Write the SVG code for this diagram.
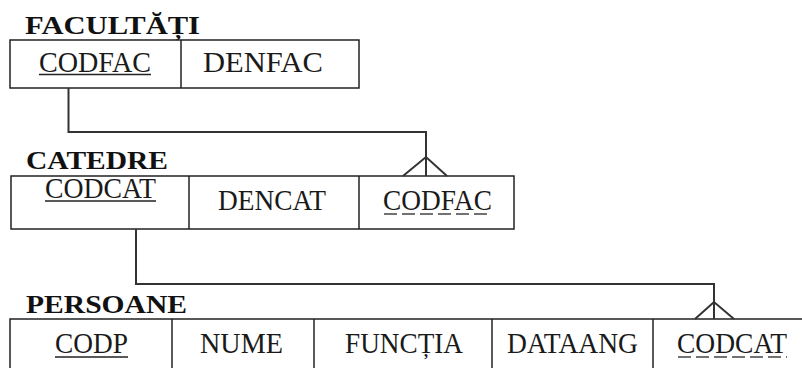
<svg xmlns="http://www.w3.org/2000/svg" width="802" height="368" viewBox="0 0 802 368">
<style>
.title{font-family:"Liberation Serif","Times New Roman",serif;font-weight:bold;font-size:25px;fill:#111}
.cell{font-family:"Liberation Serif","Times New Roman",serif;font-size:29px;fill:#1a1a1a}
.box{fill:none;stroke:#222;stroke-width:1.5}
.conn{fill:none;stroke:#333;stroke-width:2}
.pk{stroke:#222;stroke-width:1.3}
.fk{stroke:#444;stroke-width:1.3;stroke-dasharray:13 5}
</style>
<rect width="802" height="368" fill="#fff"/>
<g id="facultati">
<text class="title" x="25" y="34" textLength="175" lengthAdjust="spacingAndGlyphs">FACULTĂȚI</text>
<rect class="box" x="10" y="40" width="349" height="48"/>
<line class="box" x1="181" y1="40" x2="181" y2="88"/>
<text class="cell" x="39" y="72" textLength="112" lengthAdjust="spacingAndGlyphs">CODFAC</text>
<line class="pk" x1="39" y1="74.5" x2="151" y2="74.5"/>
<text class="cell" x="203" y="72" textLength="120" lengthAdjust="spacingAndGlyphs">DENFAC</text>
</g>
<g id="catedre">
<text class="title" x="26" y="169" textLength="142" lengthAdjust="spacingAndGlyphs">CATEDRE</text>
<rect class="box" x="11" y="176" width="503" height="53"/>
<line class="box" x1="189" y1="176" x2="189" y2="229"/>
<line class="box" x1="359" y1="176" x2="359" y2="229"/>
<text class="cell" x="45" y="198" textLength="111" lengthAdjust="spacingAndGlyphs">CODCAT</text>
<line class="pk" x1="45" y1="201" x2="156" y2="201"/>
<text class="cell" x="218" y="210" textLength="108" lengthAdjust="spacingAndGlyphs">DENCAT</text>
<text class="cell" x="383" y="210" textLength="109" lengthAdjust="spacingAndGlyphs">CODFAC</text>
<line class="fk" x1="384" y1="214" x2="492" y2="214"/>
</g>
<g id="persoane">
<text class="title" x="26" y="313" textLength="161" lengthAdjust="spacingAndGlyphs">PERSOANE</text>
<path class="box" d="M10,372 V319 H804"/>
<line class="box" x1="172" y1="319" x2="172" y2="370"/>
<line class="box" x1="314" y1="319" x2="314" y2="370"/>
<line class="box" x1="492" y1="319" x2="492" y2="370"/>
<line class="box" x1="653" y1="319" x2="653" y2="370"/>
<text class="cell" x="55" y="353" textLength="73" lengthAdjust="spacingAndGlyphs">CODP</text>
<line class="pk" x1="55" y1="357" x2="128" y2="357"/>
<text class="cell" x="200" y="353" textLength="83" lengthAdjust="spacingAndGlyphs">NUME</text>
<text class="cell" x="345" y="353" textLength="118" lengthAdjust="spacingAndGlyphs">FUNCȚIA</text>
<text class="cell" x="507" y="353" textLength="131" lengthAdjust="spacingAndGlyphs">DATAANG</text>
<text class="cell" x="677" y="353" textLength="110" lengthAdjust="spacingAndGlyphs">CODCAT</text>
<line class="fk" x1="678" y1="357" x2="787" y2="357"/>
</g>
<g id="connectors">
<path class="conn" d="M68.5,88 V132 H426 V176"/>
<path class="conn" d="M403,176 L426,157 L447,176"/>
<path class="conn" d="M136,229 V284 H714 V319"/>
<path class="conn" d="M695,319 L714,302 L734,319"/>
</g>
</svg>
